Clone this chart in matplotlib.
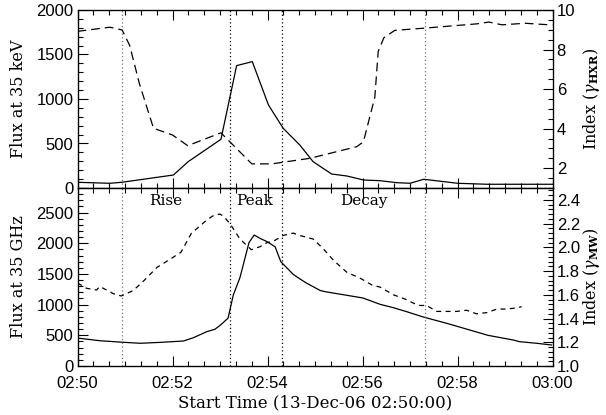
import matplotlib
matplotlib.use("Agg")
import matplotlib.pyplot as plt
from matplotlib.ticker import MultipleLocator, FixedLocator, FixedFormatter

# ---------------- data (minutes after 02:50:00) ----------------
hxr_t = [0.0, 0.68, 0.93, 2.02, 2.33, 3.02, 3.35, 3.68, 4.02, 4.33, 4.68, 4.96,
         5.35, 5.67, 6.02, 6.37, 6.72, 7.0, 7.29, 8.0, 8.62, 10.0]
hxr_flux = [64, 53, 64, 146, 296, 547, 1375, 1420, 933, 671, 483, 296,
            157, 135, 90, 82, 60, 53, 98, 53, 42, 42]

hxr_gt = [0.0, 0.68, 0.94, 1.10, 1.30, 1.60, 2.0, 2.32, 3.02, 3.67, 4.09, 4.89,
          5.88, 6.02, 6.26, 6.33, 6.45, 6.68, 7.29, 8.41, 8.66, 8.94, 9.42, 10.0]
hxr_gamma = [8.92, 9.13, 8.99, 8.2, 6.3, 4.02, 3.68, 3.14, 3.79, 2.22, 2.22, 2.50,
             3.09, 3.34, 5.6, 7.9, 8.6, 8.97, 9.08, 9.30, 9.39, 9.25, 9.33, 9.24]

mw_t = [0.0, 0.47, 0.89, 1.32, 1.74, 2.23, 2.44, 2.58, 2.72, 2.89, 3.0, 3.17,
        3.28, 3.42, 3.61, 3.72, 3.84, 3.98, 4.16, 4.28, 4.54, 4.68, 4.83, 5.11,
        5.22, 5.53, 6.01, 6.37, 6.65, 6.93, 7.28, 7.77, 8.02, 8.26, 8.64, 9.17,
        9.31, 9.67, 9.98]
mw_flux = [455, 412, 390, 370, 385, 407, 461, 510, 559, 598, 660, 780,
           1157, 1440, 2010, 2134, 2080, 2030, 1943, 1700, 1494, 1420, 1347, 1230,
           1210, 1170, 1108, 1005, 950, 885, 798, 696, 640, 586, 500, 424,
           396, 370, 342]

mw_gt = [0.0, 0.19, 0.40, 0.47, 0.68, 0.75, 0.92, 1.17, 1.40, 1.67, 1.99, 2.18,
         2.40, 2.58, 2.72, 2.87, 3.0, 3.08, 3.21, 3.42, 3.66, 3.84, 3.99, 4.12,
         4.33, 4.54, 4.68, 4.96, 5.17, 5.39, 5.67, 5.95, 6.21, 6.37, 6.65, 6.89,
         7.07, 7.21, 7.35, 7.56, 7.77, 7.98, 8.19, 8.40, 8.62, 8.83, 9.04, 9.25, 9.35]
mw_gamma = [1.70, 1.655, 1.64, 1.67, 1.626, 1.61, 1.59, 1.635, 1.72, 1.83, 1.91, 1.96,
            2.12, 2.18, 2.23, 2.27, 2.28, 2.26, 2.20, 2.07, 1.98, 2.005, 2.04, 2.05,
            2.10, 2.12, 2.10, 2.07, 1.99, 1.89, 1.79, 1.74, 1.68, 1.665, 1.60, 1.565,
            1.53, 1.51, 1.51, 1.46, 1.46, 1.46, 1.47, 1.44, 1.45, 1.48, 1.48, 1.49, 1.50]

phase_lines = [0.93, 3.21, 4.31, 7.31]
phase_labels = ["Rise", "Peak", "Decay"]
phase_label_t = [1.85, 3.72, 6.02]

xtick_pos = [0, 2, 4, 6, 8, 10]
xtick_labels = ["02:50", "02:52", "02:54", "02:56", "02:58", "03:00"]

# ---------------- figure ----------------
W, H = 606, 415
fig = plt.figure(figsize=(W / 100, H / 100), dpi=100)
X0, X1 = 77.5, 552.5
L, R = X0 / W, X1 / W
ax1 = fig.add_axes([L, 1 - 188 / H, R - L, (188 - 10) / H])
ax2 = fig.add_axes([L, 1 - 366 / H, R - L, (366 - 188) / H])

plt.rcParams["mathtext.fontset"] = "dejavuserif"
TICKFAM, TICKSIZE = "Liberation Sans", 12
LABFAM, LABSIZE = "DejaVu Serif", 11.5


def style_x(ax, labels):
    ax.set_xlim(0, 10)
    ax.xaxis.set_major_locator(FixedLocator(xtick_pos))
    ax.xaxis.set_minor_locator(MultipleLocator(1 / 3))
    if labels:
        ax.xaxis.set_major_formatter(FixedFormatter(xtick_labels))
    else:
        ax.set_xticklabels([])
    ax.tick_params(axis="x", which="both", direction="in", top=True, bottom=True)
    ax.tick_params(axis="x", which="major", length=7, width=0.8, pad=7)
    ax.tick_params(axis="x", which="minor", length=3.5, width=0.8)


def style_y(ax, side):
    left = side == "left"
    ax.tick_params(axis="y", which="both", direction="in", left=left, right=not left)
    ax.tick_params(axis="y", which="major", length=7, width=0.8, pad=3)
    ax.tick_params(axis="y", which="minor", length=3.5, width=0.8)


for ax in (ax1, ax2):
    for s in ax.spines.values():
        s.set_linewidth(0.9)

# ---- top panel ----
ax1.plot(hxr_t, hxr_flux, color="black", lw=0.9)
ax1.set_ylim(0, 2000)
ax1.yaxis.set_major_locator(MultipleLocator(500))
ax1.yaxis.set_minor_locator(MultipleLocator(100))
style_x(ax1, False)
style_y(ax1, "left")
ax1.set_ylabel("Flux at 35 keV", family=LABFAM, size=LABSIZE)
for i, t in enumerate(phase_lines):
    col = "0.45" if i in (0, 3) else "black"
    ax1.axvline(t, color=col, lw=0.9, ls=(0, (1, 2)))

ax1r = ax1.twinx()
ax1r.plot(hxr_gt, hxr_gamma, color="black", lw=0.9, ls=(0, (7, 4)))
ax1r.set_ylim(1, 10)
ax1r.yaxis.set_major_locator(FixedLocator([2, 4, 6, 8, 10]))
ax1r.yaxis.set_minor_locator(MultipleLocator(0.5))
style_y(ax1r, "right")
ax1r.set_ylabel(r"Index ($\gamma_{\mathbf{HXR}}$)", family=LABFAM, size=LABSIZE)

# ---- bottom panel ----
ax2.plot(mw_t, mw_flux, color="black", lw=0.9)
ax2.set_ylim(0, 2900)
ax2.yaxis.set_major_locator(MultipleLocator(500))
ax2.yaxis.set_minor_locator(MultipleLocator(100))
style_x(ax2, True)
style_y(ax2, "left")
ax2.set_ylabel("Flux at 35 GHz", family=LABFAM, size=LABSIZE)
ax2.set_xlabel("Start Time (13-Dec-06 02:50:00)", family=LABFAM, size=12)
for i, t in enumerate(phase_lines):
    col = "0.45" if i in (0, 3) else "black"
    ax2.axvline(t, color=col, lw=0.9, ls=(0, (1, 2)))
for lab, t in zip(phase_labels, phase_label_t):
    ax2.text(t, 2690, lab, ha="center", va="center", family=LABFAM, size=11)

ax2r = ax2.twinx()
ax2r.plot(mw_gt, mw_gamma, color="black", lw=0.9, ls=(0, (4, 3.5)))
ax2r.set_ylim(1.0, 2.5)
ax2r.yaxis.set_major_locator(FixedLocator([1.0, 1.2, 1.4, 1.6, 1.8, 2.0, 2.2, 2.4]))
ax2r.yaxis.set_minor_locator(MultipleLocator(0.04))
ax2r.yaxis.set_major_formatter(FixedFormatter(["1.0", "1.2", "1.4", "1.6", "1.8", "2.0", "2.2", "2.4"]))
style_y(ax2r, "right")
ax2r.set_ylabel(r"Index ($\gamma_{\mathbf{MW}}$)", family=LABFAM, size=LABSIZE)

for ax in (ax1, ax2, ax1r, ax2r):
    for lbl in ax.get_xticklabels() + ax.get_yticklabels():
        lbl.set_fontfamily(TICKFAM)
        lbl.set_fontsize(TICKSIZE)

span = X1 - X0
ax1.yaxis.set_label_coords((27 - X0) / span, 0.5)
ax2.yaxis.set_label_coords((27 - X0) / span, 0.5)
ax1r.yaxis.set_label_coords((581 - X0) / span, 0.5)
ax2r.yaxis.set_label_coords((581 - X0) / span, 0.5)
ax2.xaxis.set_label_coords(0.5, -(394 - 366) / (366 - 188))

fig.savefig("out.png", dpi=100)
